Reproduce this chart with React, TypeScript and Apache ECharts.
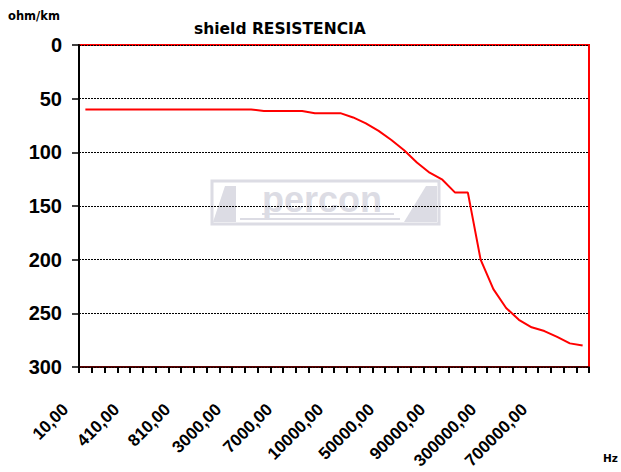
import React, { useEffect, useRef } from "react";
import * as echarts from "echarts";

const categories: number[] = [
  10, 110, 210, 310, 410, 510, 610, 710, 810, 910,
  1000, 2000, 3000, 4000, 5000, 6000, 7000, 8000, 9000, 9500,
  10000, 20000, 30000, 40000, 50000, 60000, 70000, 80000, 90000, 100000,
  200000, 250000, 300000, 400000, 500000, 600000, 700000, 800000, 900000, 1000000,
];

const resistance: number[] = [
  60, 60, 60, 60, 60, 60, 60, 60, 60, 60,
  60, 60, 60, 60, 61.5, 61.5, 61.5, 61.5, 63.5, 63.5,
  63.5, 67.5, 73, 80, 88.5, 98, 109.5, 119, 125.5, 137.5,
  137.5, 200, 227.5, 245, 256, 263, 266.5, 272, 278, 280,
];

const yTicks = { min: 0, max: 300, interval: 50 };

const titleText = "shield RESISTENCIA";
const yUnit = "ohm/km";
const xUnit = "Hz";

export default function App() {
  const ref = useRef<HTMLDivElement>(null);
  useEffect(() => {
    if (!ref.current) return;
    const chart = echarts.init(ref.current, undefined, { renderer: "svg" });
    const wm = "#dcdce4";
    const option: any = {
      animation: false,
      backgroundColor: "#ffffff",
      title: {
        text: titleText,
        left: 189,
        top: 16,
        textStyle: { fontFamily: "DejaVu Sans", fontWeight: "bold", fontSize: 15.5, color: "#000" },
      },
      grid: {
        left: 79,
        right: 32,
        top: 45,
        bottom: 105,
        outerBoundsMode: "none",
        containLabel: false,
        show: true,
        borderColor: "#ff0000",
        borderWidth: 2,
        backgroundColor: "transparent",
      },
      xAxis: {
        type: "category",
        data: categories,
        boundaryGap: true,
        axisLine: { onZero: false, lineStyle: { color: "#220000", width: 1.5 } },
        axisTick: { show: true, interval: 0, length: 6, lineStyle: { color: "#000", width: 2 } },
        axisLabel: {
          interval: 3,
          rotate: 45,
          margin: 20,
          padding: [0, 28, 0, 0],
          hideOverlap: false,
          formatter: (v: string) => v + ",00",
          fontFamily: "Liberation Sans",
          fontWeight: "bold",
          fontSize: 17,
          color: "#000",
        },
        splitLine: { show: false },
      },
      yAxis: {
        type: "value",
        inverse: true,
        min: yTicks.min,
        max: yTicks.max,
        interval: yTicks.interval,
        axisLine: { show: true, onZero: false, lineStyle: { color: "#000", width: 2 } },
        axisTick: { show: true, length: 7, lineStyle: { color: "#000", width: 1.5 } },
        axisLabel: {
          margin: 17,
          fontFamily: "Liberation Sans",
          fontWeight: "bold",
          fontSize: 20,
          color: "#000",
        },
        splitLine: { show: true, lineStyle: { color: "#000", type: [2, 1], width: 1 } },
      },
      series: [
        {
          type: "line",
          data: resistance,
          symbol: "none",
          lineStyle: { color: "#ff0000", width: 2 },
          itemStyle: { color: "#ff0000" },
          z: 5,
        },
      ],
      graphic: [
        {
          type: "text",
          left: 8,
          top: 10,
          style: { text: yUnit, fontFamily: "DejaVu Sans", fontWeight: "bold", fontSize: 11.5, fill: "#000" },
        },
        {
          type: "text",
          left: 603,
          top: 452,
          style: { text: xUnit, fontFamily: "DejaVu Sans", fontWeight: "bold", fontSize: 10.5, fill: "#000" },
        },
        {
          type: "group",
          z: -10,
          silent: true,
          children: [
            { type: "rect", z: -10, shape: { x: 212, y: 181, width: 227, height: 43 }, style: { fill: "none", stroke: wm, lineWidth: 3 } },
            { type: "polygon", z: -10, shape: { points: [[213, 222], [225, 186], [236, 186], [236, 222]] }, style: { fill: wm } },
            { type: "polygon", z: -10, shape: { points: [[404, 222], [426, 186], [437, 186], [437, 222]] }, style: { fill: wm } },
            {
              type: "text",
              z: -10,
              x: 322,
              y: 199,
              style: {
                text: "percon",
                fontFamily: "Liberation Sans",
                fontWeight: "bold",
                fontSize: 36,
                fill: wm,
                align: "center",
                verticalAlign: "middle",
              },
            },
            { type: "rect", z: -10, shape: { x: 262, y: 213, width: 132, height: 2 }, style: { fill: wm } },
            { type: "rect", z: -10, shape: { x: 240, y: 218, width: 160, height: 2 }, style: { fill: wm } },
          ],
        },
      ],
    };
    chart.setOption(option);
    return () => chart.dispose();
  }, []);
  return <div ref={ref} style={{ position: "fixed", left: 0, top: 0, width: 621, height: 472 }} />;
}
